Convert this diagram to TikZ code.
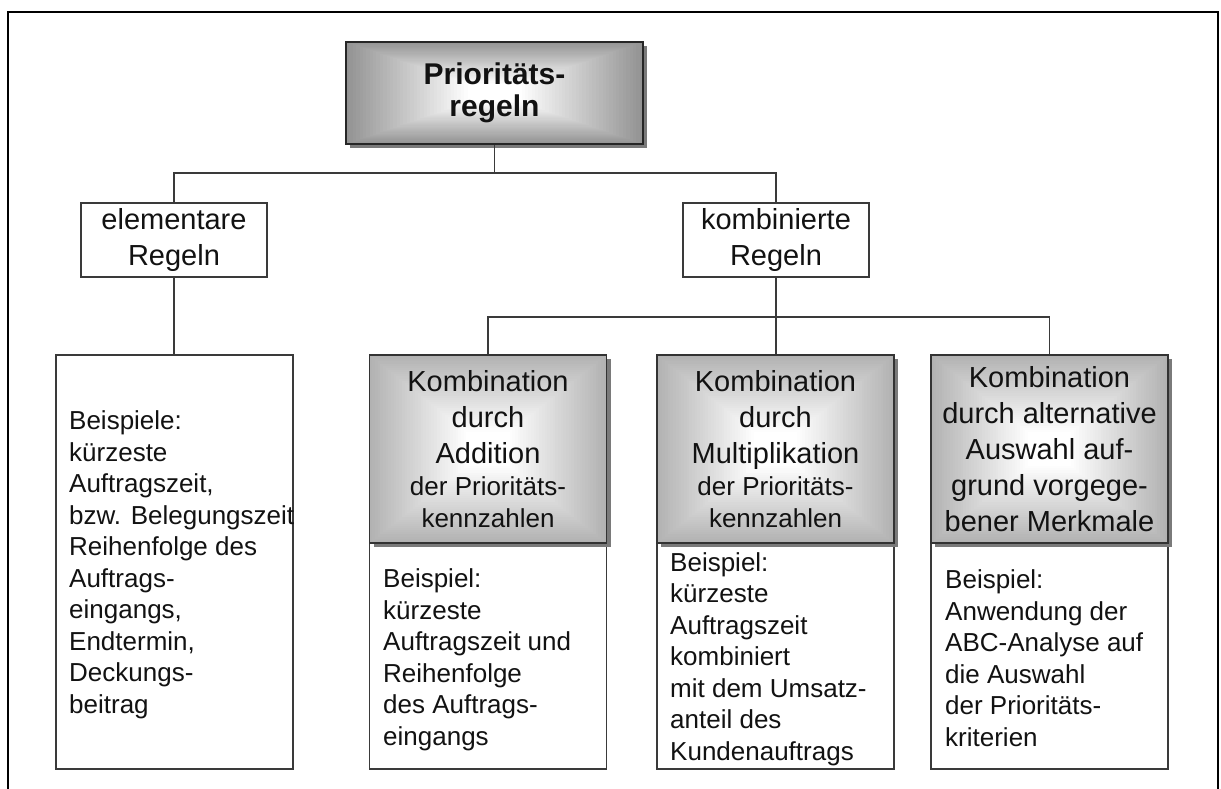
\documentclass[tikz,border=0pt]{standalone}
\usepackage{fontspec}
\setmainfont{Liberation Sans}
\usetikzlibrary{calc,shadows}

\definecolor{linegray}{HTML}{3A3A3A}
\definecolor{topedge}{HTML}{939393}
\definecolor{subedge}{HTML}{B2B2B2}
\definecolor{textblack}{HTML}{121212}
\definecolor{shadowgray}{HTML}{7A7A7A}

\newcommand\kennfont{\fontsize{26}{31.5}\selectfont}

\tikzset{
  x=1pt, y=-1pt,
  % rectangular gradient: grey rim fading to a white core
  glowfill/.style={path picture={
    \foreach \i in {0,...,44}{
      \pgfmathsetmacro\glowf{1-\i/44}
      \pgfmathsetmacro\glowp{min(100,\i*100/36)}
      \fill[white!\glowp!#1]
        ($(path picture bounding box.center)!\glowf!(path picture bounding box.south west)$)
        rectangle
        ($(path picture bounding box.center)!\glowf!(path picture bounding box.north east)$);
    }}},
  boxshadow/.style={drop shadow={shadow xshift=4pt, shadow yshift=-4pt, fill=shadowgray, opacity=1}},
  topbox/.style={draw=black!85, line width=1.6pt, glowfill=topedge, boxshadow,
    minimum width=297pt, minimum height=102pt, inner sep=0pt,
    align=center, font=\fontsize{30}{32.5}\selectfont\bfseries, text=textblack},
  rulebox/.style={draw=linegray, line width=1.3pt, fill=white,
    minimum width=186pt, minimum height=74pt, inner sep=0pt,
    align=center, font=\fontsize{29}{36}\selectfont, text=textblack},
  headbox/.style={draw=black!80, line width=1.5pt, glowfill=subedge, boxshadow,
    minimum width=237pt, minimum height=188pt, inner sep=0pt,
    align=center, font=\fontsize{29}{36}\selectfont, text=textblack},
  examplebox/.style={draw=linegray, line width=1.3pt, fill=white,
    minimum width=237pt, minimum height=226pt, inner sep=0pt},
  bodytext/.style={align=left, anchor=west, inner sep=0pt,
    font=\fontsize{26}{31.5}\selectfont, text=textblack},
  link/.style={draw=linegray, line width=1.3pt},
  frame/.style={draw=black, line width=2.4pt},
}

\begin{document}
\begin{tikzpicture}
  \useasboundingbox (0,0) rectangle (1221,789);
  \fill[white] (0,0) rectangle (1221,789);

  % outer frame, open at the bottom
  \draw[frame] (8,789) -- (8,12) -- (1218,12) -- (1218,789);

  % root
  \node[topbox] (top) at (494.5,93) {Prioritäts-\\regeln};

  % second level
  \node[rulebox] (elem) at (174,240) {elementare\\Regeln};
  \node[rulebox] (komb) at (776,240) {kombinierte\\Regeln};

  % examples for elementary rules
  \node[examplebox, minimum height=414pt] (elemex) at (174.5,562) {};
  \node[bodytext] (elemtxt) at (69,565) {Beispiele:\\kürzeste\\Auftragszeit,\\bzw. Belegungszeit\\Reihenfolge des\\Auftrags-\\eingangs,\\Endtermin,\\Deckungs-\\beitrag};

  % example boxes below the combination boxes
  \node[examplebox] (addex) at (488,656) {};
  \node[examplebox] (multex) at (775.5,656) {};
  \node[examplebox] (altex) at (1049.5,656) {};

  % combination boxes
  \node[headbox] (addh) at (488,449) {Kombination\\durch\\Addition\\[-4pt]{\kennfont der Prioritäts-}\\[-4.5pt]{\kennfont kennzahlen}};
  \node[headbox] (multh) at (775.5,449) {Kombination\\durch\\Multiplikation\\[-4pt]{\kennfont der Prioritäts-}\\[-4.5pt]{\kennfont kennzahlen}};
  \node[headbox] (alth) at (1049.5,449) {Kombination\\durch alternative\\Auswahl auf-\\grund vorgege-\\bener Merkmale};

  % example texts
  \node[bodytext] (addtxt) at (383,660) {Beispiel:\\kürzeste\\Auftragszeit und\\Reihenfolge\\des Auftrags-\\eingangs};
  \node[bodytext] (multtxt) at (670,659) {Beispiel:\\kürzeste\\Auftragszeit\\kombiniert\\mit dem Umsatz-\\anteil des\\Kundenauftrags};
  \node[bodytext] (alttxt) at (945,658) {Beispiel:\\Anwendung der\\ABC-Analyse auf\\die Auswahl\\der Prioritäts-\\kriterien};

  % connectors
  \coordinate (busA) at (0,173);
  \coordinate (busB) at (0,317);
  \draw[link] (top.south) -- (top.south |- busA);
  \draw[link] (elem.north) |- (komb.north |- busA) -- (komb.north);
  \draw[link] (elem.south) -- (elem.south |- elemex.north);
  \draw[link] (komb.south) -- (komb.south |- multh.north);
  \draw[link] (addh.north) |- (alth.north |- busB) -- (alth.north);
\end{tikzpicture}
\end{document}
